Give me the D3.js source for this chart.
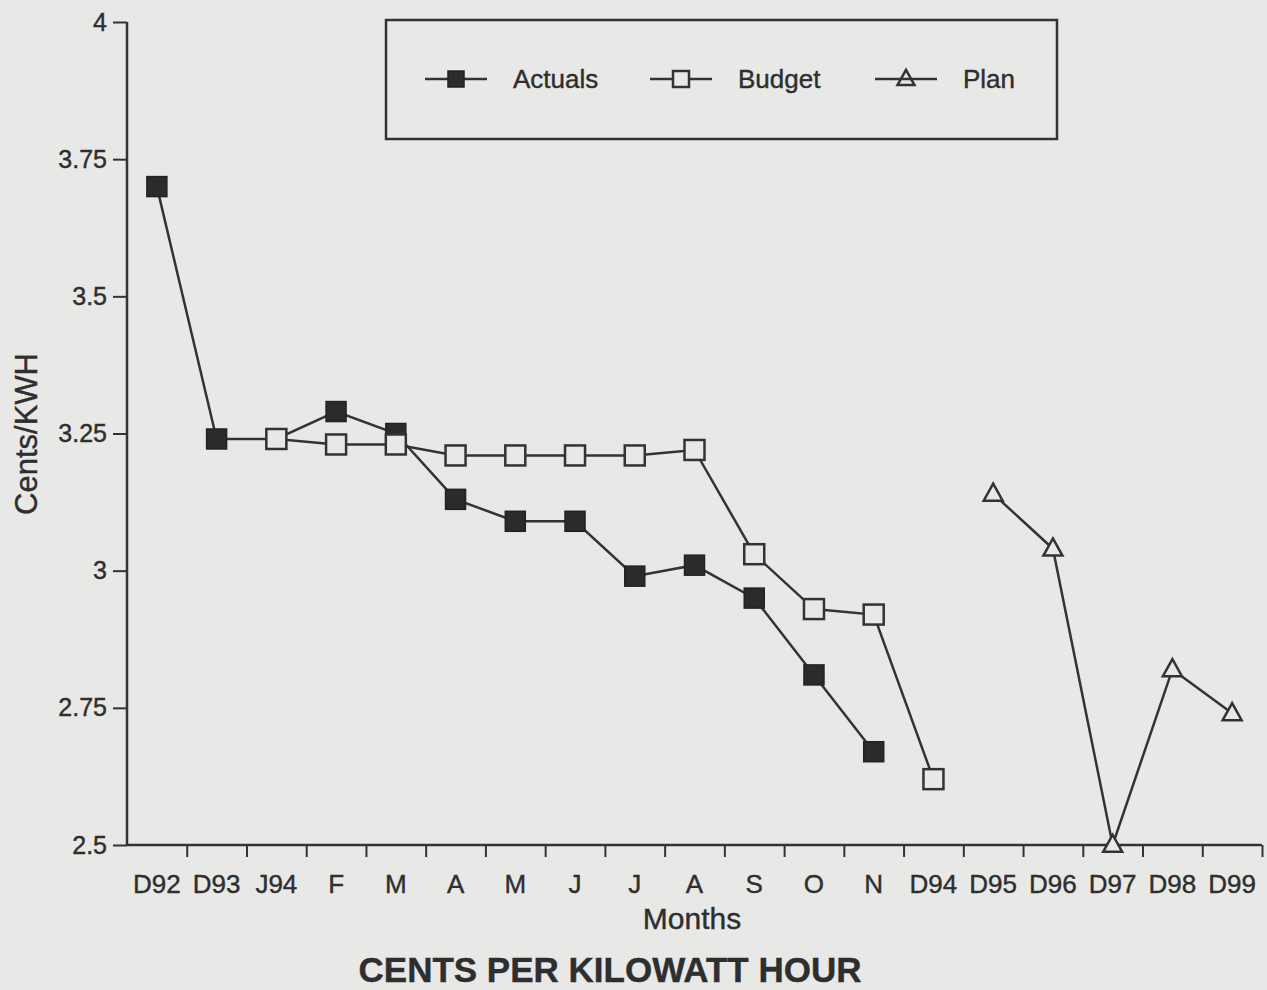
<!DOCTYPE html>
<html>
<head>
<meta charset="utf-8">
<script src="https://cdn.jsdelivr.net/npm/d3@7"></script>
<style>
  html, body { margin: 0; padding: 0; background: #e8e8e7; }
  svg { display: block; }
  text { font-family: "Liberation Sans", Arial, Helvetica, sans-serif; fill: #2e2e2e; stroke: #2e2e2e; stroke-width: 0.4px; }
</style>
</head>
<body>
<svg id="chart" width="1267" height="990"></svg>
<script>
// ---- data ----
const categories = ["D92","D93","J94","F","M","A","M","J","J","A","S","O","N","D94","D95","D96","D97","D98","D99"];
// values indexed by category position (null = no point)
const actuals = [3.70, 3.24, 3.24, 3.29, 3.25, 3.13, 3.09, 3.09, 2.99, 3.01, 2.95, 2.81, 2.67, null, null, null, null, null, null];
const budget  = [null, null, 3.24, 3.23, 3.23, 3.21, 3.21, 3.21, 3.21, 3.22, 3.03, 2.93, 2.92, 2.62, null, null, null, null, null];
const plan    = [null, null, null, null, null, null, null, null, null, null, null, null, null, null, 3.14, 3.04, 2.50, 2.82, 2.74];
const yTicks = [2.5, 2.75, 3, 3.25, 3.5, 3.75, 4];
const seriesNames = ["Actuals", "Budget", "Plan"];

// ---- layout ----
const svg = d3.select("#chart");
const ink = "#333";
const bg = "#e8e8e7";
const plotL = 127, plotR = 1262, plotT = 22, plotB = 845;

const x = d3.scaleBand().domain(d3.range(categories.length)).range([plotL, plotR]).padding(0);
const xb = d3.scaleLinear().domain([0, categories.length]).range([plotL, plotR]);
const y = d3.scaleLinear().domain([2.5, 4]).range([plotB, plotT]);

// y axis
const yAxis = svg.append("g")
  .attr("transform", `translate(${plotL},0)`)
  .call(d3.axisLeft(y).tickValues(yTicks).tickSize(14).tickPadding(6).tickFormat(d => String(d)));
yAxis.select(".domain").attr("stroke", ink).attr("stroke-width", 2.5).attr("d", `M0,${plotT}V${plotB}`);
yAxis.selectAll(".tick line").attr("stroke", ink).attr("stroke-width", 2);
yAxis.selectAll(".tick text").attr("font-size", 25).attr("fill", "#2e2e2e")
  .style("font-family", '"Liberation Sans", Arial, sans-serif');

// x axis (boundary ticks)
const xAxis = svg.append("g")
  .attr("transform", `translate(0,${plotB})`)
  .call(d3.axisBottom(xb).tickValues(d3.range(1, categories.length + 1)).tickSize(12).tickFormat(""));
xAxis.select(".domain").attr("stroke", ink).attr("stroke-width", 2.5).attr("d", `M${plotL},0H${plotR}`);
xAxis.selectAll(".tick line").attr("stroke", ink).attr("stroke-width", 2);

// x labels at band centers
svg.append("g").selectAll("text")
  .data(categories)
  .join("text")
  .attr("x", (d, i) => x(i) + x.bandwidth() / 2)
  .attr("y", 893)
  .attr("text-anchor", "middle")
  .attr("font-size", 26)
  .text(d => d);

// axis titles
svg.append("text")
  .attr("x", 692).attr("y", 929)
  .attr("text-anchor", "middle")
  .attr("font-size", 30)
  .text("Months");

svg.append("text")
  .attr("transform", "translate(37,434) rotate(-90)")
  .attr("text-anchor", "middle")
  .attr("font-size", 31)
  .text("Cents/KWH");

svg.append("text")
  .attr("x", 610).attr("y", 982)
  .attr("text-anchor", "middle")
  .attr("font-size", 35)
  .attr("font-weight", "bold")
  .text("CENTS PER KILOWATT HOUR");

// ---- series ----
const line = d3.line()
  .defined(d => d.v !== null)
  .x(d => x(d.i) + x.bandwidth() / 2)
  .y(d => y(d.v));

function pts(arr) { return arr.map((v, i) => ({ i, v })); }

const triPath = (s) => {
  const h = s * 0.9;
  return `M0,${-h * 0.6}L${s / 2},${h * 0.4}L${-s / 2},${h * 0.4}Z`;
};

function drawSeries(arr, kind) {
  const g = svg.append("g");
  g.append("path")
    .attr("d", line(pts(arr)))
    .attr("fill", "none")
    .attr("stroke", ink)
    .attr("stroke-width", 2.5);
  const p = pts(arr).filter(d => d.v !== null);
  const m = g.selectAll("g.m").data(p).join("g")
    .attr("transform", d => `translate(${x(d.i) + x.bandwidth() / 2},${y(d.v)})`);
  if (kind === "filled") {
    m.append("rect").attr("x", -10).attr("y", -10).attr("width", 20).attr("height", 20)
      .attr("fill", "#2b2b2b").attr("stroke", "#222").attr("stroke-width", 1.5);
  } else if (kind === "open") {
    m.append("rect").attr("x", -10).attr("y", -10).attr("width", 20).attr("height", 20)
      .attr("fill", bg).attr("stroke", ink).attr("stroke-width", 2.5);
  } else {
    m.append("path").attr("d", triPath(19))
      .attr("fill", bg).attr("stroke", ink).attr("stroke-width", 2.5);
  }
}

drawSeries(actuals, "filled");
drawSeries(budget, "open");
drawSeries(plan, "tri");

// ---- legend ----
const lg = svg.append("g");
lg.append("rect").attr("x", 386).attr("y", 20).attr("width", 671).attr("height", 119)
  .attr("fill", "none").attr("stroke", ink).attr("stroke-width", 2.5);

const legendItems = [
  { name: seriesNames[0], kind: "filled", x0: 425 },
  { name: seriesNames[1], kind: "open", x0: 650 },
  { name: seriesNames[2], kind: "tri", x0: 875 }
];
const ly = 79;
legendItems.forEach(it => {
  const g = lg.append("g");
  g.append("line").attr("x1", it.x0).attr("x2", it.x0 + 62).attr("y1", ly).attr("y2", ly)
    .attr("stroke", ink).attr("stroke-width", 2.5);
  const c = g.append("g").attr("transform", `translate(${it.x0 + 31},${ly})`);
  if (it.kind === "filled") {
    c.append("rect").attr("x", -8).attr("y", -8).attr("width", 16).attr("height", 16)
      .attr("fill", "#2b2b2b").attr("stroke", "#222").attr("stroke-width", 1.5);
  } else if (it.kind === "open") {
    c.append("rect").attr("x", -8).attr("y", -8).attr("width", 16).attr("height", 16)
      .attr("fill", bg).attr("stroke", ink).attr("stroke-width", 2.5);
  } else {
    c.append("path").attr("d", triPath(17)).attr("fill", "none").attr("stroke", ink).attr("stroke-width", 2.5);
  }
  g.append("text").attr("x", it.x0 + 88).attr("y", ly + 9).attr("font-size", 26).text(it.name);
});
</script>
</body>
</html>
